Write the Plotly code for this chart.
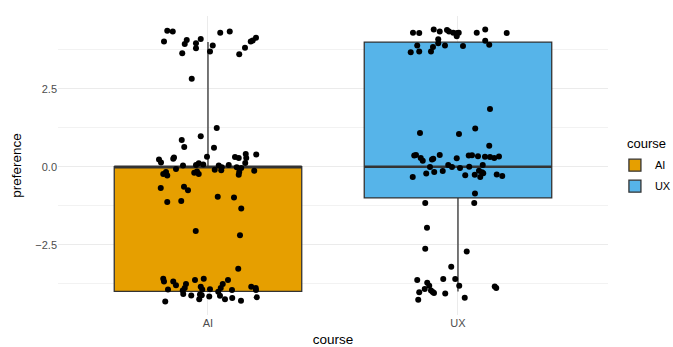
import plotly.graph_objects as go

courses = ["AI", "UX"]
fill_colors = ["#E69F00", "#56B4E9"]

# box statistics
q1 = [-4, -1]
median = [0, 0]
q3 = [0, 4]
lower_whisker = [-4, -4]
upper_whisker = [4, 4]

# jittered observations: horizontal jitter offset and preference value
ai_offset = [-0.163, -0.141, -0.176, -0.085, -0.093, -0.048, -0.029, -0.048, -0.103, 0.008, 0.019, 0.049, 0.087, 0.125, 0.148, 0.171, 0.179, 0.192, -0.065,
             0.035, -0.029, -0.105, -0.095, 0.024, -0.004, -0.196, -0.188, -0.139, -0.136, -0.1, -0.048, -0.037, -0.019, -0.128, -0.179, -0.168, -0.163, -0.055, -0.037, -0.044, 0.027, 0.043, 0.055, 0.053, 0.083, 0.108, 0.123, 0.151, 0.153, 0.149, 0.193, 0.115, 0.133, 0.125, 0.123, 0.185, -0.189, -0.096, -0.08, 0.039, 0.104, -0.163, -0.107, 0.133, -0.049, 0.128, 0.121,
             -0.179, -0.176, -0.139, -0.128, -0.16, -0.088, -0.093, -0.101, -0.099, -0.052, -0.017, -0.029, -0.023, -0.032, -0.025, -0.067, 0.008, 0.005, -0.035, -0.171, 0.041, 0.051, 0.059, 0.08, 0.096, 0.048, 0.068, 0.097, 0.132, 0.173, 0.191, 0.192, 0.195]
ai_pref = [4.36, 4.34, 4.02, 4.07, 3.94, 3.96, 4.10, 3.80, 3.64, 3.70, 3.89, 4.30, 4.34, 3.61, 3.82, 4.02, 4.05, 4.14, 2.82,
           1.24, 0.98, 0.86, 0.63, 0.61, 0.32, 0.23, 0.14, 0.26, 0.30, 0.04, 0.06, 0.11, 0.07, -0.07, -0.23, -0.17, -0.28, -0.19, -0.23, -0.15, -0.10, 0.04, -0.02, -0.11, 0.06, 0.31, 0.28, 0.41, 0.28, 0.12, 0.39, -0.02, -0.04, -0.17, -0.26, -0.13, -0.68, -0.64, -0.75, -0.96, -0.99, -1.13, -1.10, -1.34, -2.06, -2.20, -3.27,
           -3.59, -3.68, -3.68, -3.80, -3.94, -3.76, -3.89, -3.97, -4.08, -3.63, -3.59, -3.85, -3.94, -4.10, -4.12, -4.13, -3.93, -4.16, -4.25, -4.32, -4.01, -3.89, -3.76, -3.63, -3.95, -4.14, -4.25, -4.21, -4.30, -3.85, -3.89, -3.95, -4.19]

ux_offset = [-0.18, -0.155, -0.097, -0.073, -0.044, -0.036, -0.019, -0.003, 0.003, -0.005, 0.075, 0.109, 0.195, -0.079, -0.079, -0.052, -0.163, -0.189, -0.155, -0.1, -0.108, 0.02, 0.109, 0.125, 0.128,
             -0.152, 0.004, 0.069, 0.125, -0.175, -0.168, -0.149, -0.141, -0.104, -0.099, -0.073, -0.005, 0.043, 0.056, 0.08, 0.108, 0.128, 0.145, 0.164, -0.112, -0.039, -0.024, 0.008, 0.045, 0.099, 0.084, 0.096, 0.101, 0.089, 0.067, 0.029, -0.061, -0.095, -0.127, -0.181, 0.155, 0.177, 0.068, -0.131, 0.065,
             -0.124, -0.131, 0.035, -0.027, -0.059, -0.011, -0.163, -0.123, -0.115, -0.133, -0.108, -0.101, -0.096, -0.155, -0.159, -0.051, 0.005, 0.027, 0.147, 0.153]
ux_pref = [4.30, 4.29, 4.40, 4.34, 4.39, 4.34, 4.30, 4.29, 4.30, 4.19, 4.30, 4.40, 4.29, 4.09, 3.96, 3.89, 3.89, 3.67, 3.70, 3.84, 3.70, 3.87, 4.04, 3.91, 1.85,
           1.08, 1.05, 1.23, 0.67, 0.36, 0.38, 0.28, 0.19, 0.23, 0.26, 0.38, 0.27, 0.36, 0.37, 0.34, 0.32, 0.31, 0.28, 0.33, -0.01, 0.06, -0.01, -0.04, 0.00, 0.06, -0.13, -0.18, -0.21, -0.33, -0.26, -0.27, -0.14, -0.17, -0.22, -0.33, -0.25, -0.30, -0.86, -1.16, -1.16,
           -1.96, -2.63, -2.72, -3.21, -3.60, -3.60, -3.63, -3.72, -3.82, -3.92, -3.97, -4.02, -4.05, -4.03, -4.27, -4.07, -3.82, -4.20, -3.84, -3.89]

offsets = [ai_offset, ux_offset]
prefs = [ai_pref, ux_pref]

FONT = "Liberation Sans, Arial, sans-serif"
box_width = 0.75

fig = go.Figure()
for i, name in enumerate(courses):
    fig.add_trace(go.Box(
        x=[i], q1=[q1[i]], median=[median[i]], q3=[q3[i]],
        lowerfence=[lower_whisker[i]], upperfence=[upper_whisker[i]],
        name=name, legendgroup=name, showlegend=True,
        fillcolor=fill_colors[i], line=dict(color="#333333", width=1.3),
        width=box_width, whiskerwidth=0, boxpoints=False, hoverinfo="skip",
    ))
    # thicker median line (ggplot style)
    fig.add_trace(go.Scatter(
        x=[i - box_width / 2, i + box_width / 2], y=[median[i], median[i]],
        mode="lines", line=dict(color="#333333", width=2.6),
        showlegend=False, hoverinfo="skip",
    ))
for i, name in enumerate(courses):
    fig.add_trace(go.Scatter(
        x=[i + o for o in offsets[i]], y=prefs[i], mode="markers",
        marker=dict(color="black", size=6), showlegend=False, hoverinfo="skip",
    ))

all_vals = ai_pref + ux_pref
lo, hi = min(all_vals), max(all_vals)
pad = (hi - lo) * 0.05

fig.update_layout(
    width=673, height=347,
    margin=dict(l=58, r=5, t=16, b=32, autoexpand=False),
    paper_bgcolor="white", plot_bgcolor="white",
    font=dict(family=FONT, color="#4D4D4D", size=11),
    boxmode="overlay",
    xaxis=dict(
        domain=[0, 0.9016],
        range=[-0.6, 1.6], tickvals=[0, 1], ticktext=courses,
        showgrid=True, gridcolor="#EBEBEB", gridwidth=1,
        zeroline=False, showline=False, ticks="",
        tickfont=dict(size=11, color="#4D4D4D"),
        title=dict(text="course", font=dict(size=13.5, color="black"), standoff=7),
        automargin=False,
    ),
    yaxis=dict(
        range=[lo - pad, hi + pad], tick0=0, dtick=2.5, tickformat=".1f",
        showgrid=True, gridcolor="#EBEBEB", gridwidth=1.1,
        minor=dict(dtick=1.25, showgrid=True, gridcolor="#F2F2F2", gridwidth=0.6),
        zeroline=False, showline=False, ticks="",
        tickfont=dict(size=11, color="#4D4D4D"),
        title=dict(text="preference", font=dict(size=13.5, color="black"), standoff=10),
        automargin=False,
    ),
    legend=dict(
        x=0.913, y=0.466, xanchor="left", yanchor="middle",
        font=dict(size=11, color="black"), tracegroupgap=2, itemwidth=30,
    ),
    annotations=[dict(
        text="course", xref="paper", yref="paper", x=1.0, y=0.575,
        xanchor="right", yanchor="middle", showarrow=False,
        font=dict(size=13, color="black"),
    )],
)

fig.write_html(
    "out.html",
    config={"displayModeBar": False},
    post_script="document.body.style.margin='0';document.body.style.overflow='hidden';",
)
